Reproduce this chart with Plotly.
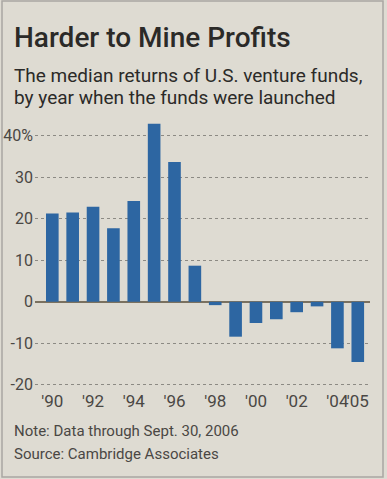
import plotly.graph_objects as go

years = [str(y) for y in range(1990, 2006)]
returns = [21.3, 21.5, 22.9, 17.7, 24.3, 42.9, 33.7, 8.7, -0.8, -8.4, -5.1, -4.2, -2.5, -1.1, -11.2, -14.5]
xtick_vals = ["1990", "1992", "1994", "1996", "1998", "2000", "2002", "2004", "2005"]
xtick_text = ["'90", "'92", "'94", "'96", "'98", "'00", "'02", "'04", "'05"]
ytick_vals = [-20, -10, 0, 10, 20, 30, 40]
ytick_text = ["-20", "-10", "0", "10", "20", "30", "40%"]

W, H = 387, 479
L, R, T, B = 35, W - 370, 115, H - 389
pw, ph = W - L - R, H - T - B

def xp(px):
    return (px - L) / pw

def yp(py):
    return (H - B - py) / ph

FONT = "Roboto, sans-serif"
BG = "#dedbd2"

fig = go.Figure(go.Bar(x=years, y=returns, marker_color="#2d66a2",
                       marker_line_width=0, width=0.62))

fig.update_layout(
    width=W, height=H, margin=dict(l=L, r=R, t=T, b=B, autoexpand=False),
    paper_bgcolor=BG, plot_bgcolor=BG, showlegend=False,
    font=dict(family=FONT, color="#4a4744"),
)
fig.update_xaxes(type="category", range=[-0.85, 15.6], tickmode="array",
                 tickvals=xtick_vals, ticktext=xtick_text, showgrid=False,
                 ticks="", tickangle=0, automargin=False,
                 tickfont=dict(size=17, color="#4a4744"), showline=False)
fig.update_yaxes(range=[-21, 45], tickmode="array", tickvals=ytick_vals,
                 ticktext=ytick_text, showgrid=True, gridcolor="#8c8a84",
                 griddash="dot", gridwidth=1, zeroline=True, zerolinecolor="#7a7160",
                 zerolinewidth=2, ticks="", ticklabelstandoff=1, automargin=False,
                 tickfont=dict(size=16, color="#4a4744"))

ann = [
    dict(text="Harder to Mine Profits", x=xp(12), y=yp(19), size=28, color="#2b2a28", weight=500),
    dict(text="The median returns of U.S. venture funds,", x=xp(12), y=yp(62), size=19, color="#2b2a28", weight=400),
    dict(text="by year when the funds were launched", x=xp(12), y=yp(84), size=19, color="#2b2a28", weight=400),
    dict(text="Note: Data through Sept. 30, 2006", x=xp(12), y=yp(420), size=15, color="#4a4744", weight=400),
    dict(text="Source: Cambridge Associates", x=xp(12), y=yp(443), size=15, color="#4a4744", weight=400),
]
for a in ann:
    fig.add_annotation(text=a["text"], x=a["x"], y=a["y"], xref="paper", yref="paper",
                       xanchor="left", yanchor="top", showarrow=False,
                       font=dict(size=a["size"], color=a["color"], family=FONT, weight=a["weight"]))

fig.add_shape(type="rect", xref="paper", yref="paper",
              x0=xp(2), x1=xp(383), y0=yp(477), y1=yp(1),
              line=dict(color="#a9a7a3", width=1.5), fillcolor="rgba(0,0,0,0)", layer="below")

fig.write_html("out.html", config={"displayModeBar": False},
               post_script="document.body.style.margin='0';document.body.style.overflow='hidden';")
